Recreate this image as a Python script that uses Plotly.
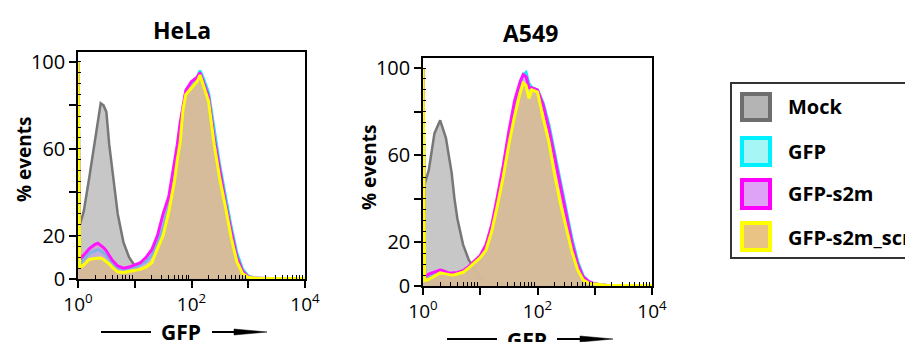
import plotly.graph_objects as go

# page body has an 8px margin: the figure fills the rest of the 913x342 window
OFF = 8
W, H = 913 - OFF, 342 - OFF

# GFP intensity bins (linear units, log-spaced channels)
gfp_bins = [1.0, 1.072, 1.259, 1.585, 1.995, 2.239, 2.512, 2.818, 3.162, 3.548,
            3.981, 5.012, 6.310, 7.943, 10.0, 12.59, 15.85, 19.95, 25.12, 31.62,
            39.81, 50.12, 56.23, 63.10, 70.79, 79.43, 100.0, 125.9, 141.3, 158.5,
            199.5, 251.2, 316.2, 398.1, 501.2, 631.0, 794.3, 1000, 1259, 1585,
            2512, 3981, 6310, 10000]

series_names = ["Mock", "GFP", "GFP-s2m", "GFP-s2m_scr"]
panel_titles = ["HeLa", "A549"]

hela_mock = [22, 25, 31, 47, 63, 72, 81, 80, 77, 62, 52, 30, 17, 10, 6, 3.5, 2, 1.5, 1.2, 1,
             0.8, 0.5, 0.4, 0.3, 0.2, 0.2, 0.1, 0, 0, 0, 0, 0, 0, 0, 0, 0, 0, 0, 0, 0,
             0, 0, 0, 0]
hela_gfp = [100, 7, 9, 12, 13, 13.5, 13, 12, 11, 9, 7, 5, 4.5, 5, 5.5, 6.5, 8, 11, 17, 24,
            34, 46, 55, 65, 78, 86, 90, 93, 96, 93, 86, 68, 52, 38, 24, 12, 4.5, 1.3, 0.6, 0.3,
            0.2, 0.2, 0.2, 0.2]
hela_s2m = [100, 9, 11, 14, 16, 16.5, 15.5, 14.5, 13, 11, 8.7, 6, 5, 5.5, 6.5, 7.5, 10, 13.5, 20, 30,
            38, 53, 62, 72, 80, 87, 91, 93, 95, 91, 84, 65, 50, 35, 22, 10, 3.5, 1, 0.5, 0.3,
            0.2, 0.2, 0.2, 0.2]
hela_scr = [100, 5, 6.5, 9, 9.5, 9.7, 9.7, 9, 8, 7, 5.5, 3.3, 3, 3.5, 4, 4.5, 5.5, 7.5, 14, 20,
            31, 45, 55, 63, 78, 85, 88, 91, 94, 90, 82, 62, 46, 33, 19, 8, 2.5, 0.8, 0.4, 0.2,
            0.2, 0.2, 0.2, 0.2]

a549_mock = [45, 47, 53, 70, 76, 72, 68, 60, 52, 40, 31, 19, 12, 8, 4, 2.2, 1.5, 1.2, 1, 1,
             0.8, 0.5, 0.4, 0.3, 0.2, 0.2, 0.1, 0, 0, 0, 0, 0, 0, 0, 0, 0, 0, 0, 0, 0,
             0, 0, 0, 0]
a549_gfp = [100, 3.5, 4.5, 5.5, 6.5, 6.3, 6, 5.5, 5.5, 5.5, 6, 6.8, 8.8, 11, 13.5, 18, 26, 39, 52, 68,
            82, 92, 97, 98, 93, 91, 90, 84, 79, 74, 61, 48, 35, 22, 11.5, 4.5, 2, 1, 0.6, 0.3,
            0.2, 0.2, 0.2, 0.2]
a549_s2m = [100, 4, 5.5, 6.5, 7.3, 7, 6.5, 6, 6, 6, 6.2, 7, 9, 11.5, 14, 19, 28, 41, 55, 71,
            85, 94, 97, 96, 91, 91, 90, 83, 78, 72, 59, 46, 33, 20, 10, 4, 2, 1, 0.6, 0.3,
            0.2, 0.2, 0.2, 0.2]
a549_scr = [100, 2.5, 3, 4.5, 6, 5.8, 5.5, 5, 5, 5.2, 5.5, 6.3, 8.3, 10.5, 13, 16.5, 25, 37, 50, 65,
            78, 89, 93, 92, 86, 90, 89, 77, 72, 66, 51, 38, 27, 16, 7.5, 2.7, 1.2, 0.8, 0.5, 0.3,
            0.2, 0.2, 0.2, 0.2]

y_tickvals = [0, 20, 40, 60, 80, 100]
y_ticktext = ["0", "20", "", "60", "", "100"]
x_tickvals = [1, 10, 100, 1000, 10000]
x_ticktext = ["10<sup>0</sup>", "", "10<sup>2</sup>", "", "10<sup>4</sup>"]
x_minor = [m * d for d in (1, 10, 100, 1000) for m in range(2, 10)]

line_colors = ["#777777", "#22e4ee", "#ff14ff", "#ffff00"]
fill_colors = ["rgba(185,185,185,0.8)", "rgba(150,235,245,0.5)",
               "rgba(220,130,215,0.5)", "rgba(214,188,145,0.9)"]
swatch_fill = ["#b4b4b4", "#a6f6f6", "#dea2f6", "#e8c384"]
swatch_line = ["#6e6e6e", "#00f0ff", "#ff00ff", "#ffff00"]

FONT = "Open Sans"

def px(x):
    return (x - OFF) / W

def py(y):
    return 1 - (y - OFF) / H

fig = go.Figure()

panels = [
    ("x", "y", [hela_mock, hela_gfp, hela_s2m, hela_scr]),
    ("x2", "y2", [a549_mock, a549_gfp, a549_s2m, a549_scr]),
]
for xa, ya, data in panels:
    for i, vals in enumerate(data):
        fig.add_trace(go.Scatter(
            x=gfp_bins, y=vals, xaxis=xa, yaxis=ya, mode="lines",
            line=dict(color=line_colors[i], width=3 if i else 2.5, shape="linear"),
            fill="tozeroy", fillcolor=fill_colors[i], name=series_names[i],
            showlegend=False, hoverinfo="skip"))

common_x = dict(type="log", range=[0, 4], showline=True, mirror=True, linecolor="black",
                linewidth=1.5, ticks="outside", ticklen=7, tickwidth=1.5, tickcolor="black",
                tickmode="array", tickvals=x_tickvals, ticktext=x_ticktext,
                showgrid=False, zeroline=False, automargin=False,
                tickfont=dict(family=FONT, size=19, color="black"),
                minor=dict(ticks="inside", ticklen=4, tickwidth=1, tickcolor="black",
                           tickmode="array", tickvals=x_minor, showgrid=False))
common_y = dict(range=[0, 104.6], showline=True, mirror=True, linecolor="black",
                linewidth=1.5, ticks="outside", ticklen=7, tickwidth=1.5, tickcolor="black",
                tickmode="array", tickvals=y_tickvals, ticktext=y_ticktext,
                showgrid=False, zeroline=False, automargin=False,
                tickfont=dict(family=FONT, size=20, color="black"),
                minor=dict(ticks="inside", ticklen=3, tickwidth=1, tickcolor="black",
                           dtick=5, showgrid=False))

fig.update_layout(
    width=W, height=H, margin=dict(l=0, r=0, t=0, b=0, autoexpand=False),
    paper_bgcolor="white", plot_bgcolor="white",
    xaxis=dict(domain=[px(78), px(305)], anchor="y", **common_x),
    yaxis=dict(domain=[py(279), py(52)], anchor="x", **common_y),
    xaxis2=dict(domain=[px(423), px(652)], anchor="y2", **common_x),
    yaxis2=dict(domain=[py(286), py(58)], anchor="x2", **common_y),
)

ann = []
# panel titles
for title, xx, yy in [(panel_titles[0], 182, 30), (panel_titles[1], 530, 33)]:
    ann.append(dict(text="<b>%s</b>" % title, x=px(xx), y=py(yy), xref="paper", yref="paper",
                    showarrow=False, xanchor="center", yanchor="middle",
                    font=dict(family=FONT, size=23, color="black")))
# y titles
for xx, yy in [(24, 159), (369, 167)]:
    ann.append(dict(text="<b>% events</b>", x=px(xx), y=py(yy), xref="paper", yref="paper",
                    showarrow=False, textangle=-90, xanchor="center", yanchor="middle",
                    font=dict(family=FONT, size=19, color="black")))
# x titles
for xx, yy in [(181, 332), (527, 340)]:
    ann.append(dict(text="<b>GFP</b>", x=px(xx), y=py(yy), xref="paper", yref="paper",
                    showarrow=False, xanchor="center", yanchor="middle",
                    font=dict(family=FONT, size=21, color="black")))
# legend labels
for i, yy in enumerate([107, 151, 194, 237]):
    ann.append(dict(text="<b>%s</b>" % series_names[i], x=px(786), y=py(yy), xref="paper",
                    yref="paper", showarrow=False, xanchor="left", yanchor="middle",
                    font=dict(family=FONT, size=20, color="black")))

shapes = []
# GFP arrows: line left, arrow right
for (l0, l1, a0, a1, yy) in [(101, 151, 212, 267, 332), (447, 497, 557, 613, 339)]:
    shapes.append(dict(type="line", xref="paper", yref="paper", x0=px(l0), x1=px(l1),
                       y0=py(yy), y1=py(yy), line=dict(color="black", width=2)))
    shapes.append(dict(type="line", xref="paper", yref="paper", x0=px(a0), x1=px(a1 - 30),
                       y0=py(yy), y1=py(yy), line=dict(color="black", width=2)))
    path = "M %f %f L %f %f L %f %f Z" % (px(a1 - 33), py(yy - 3), px(a1), py(yy),
                                         px(a1 - 33), py(yy + 3))
    shapes.append(dict(type="path", xref="paper", yref="paper", path=path,
                       fillcolor="black", line=dict(color="black", width=0.5)))
# legend box
shapes.append(dict(type="rect", xref="paper", yref="paper", x0=px(731), x1=px(960),
                   y0=py(258), y1=py(83), line=dict(color="#333333", width=2),
                   fillcolor="rgba(0,0,0,0)"))
for i, (t, b) in enumerate([(92, 122), (136, 167), (178, 210), (221, 252)]):
    shapes.append(dict(type="rect", xref="paper", yref="paper", x0=px(742), x1=px(770),
                       y0=py(b - 2), y1=py(t + 2), fillcolor=swatch_fill[i],
                       line=dict(color=swatch_line[i], width=4)))

fig.update_layout(annotations=ann, shapes=shapes)
fig.write_html("out.html")
